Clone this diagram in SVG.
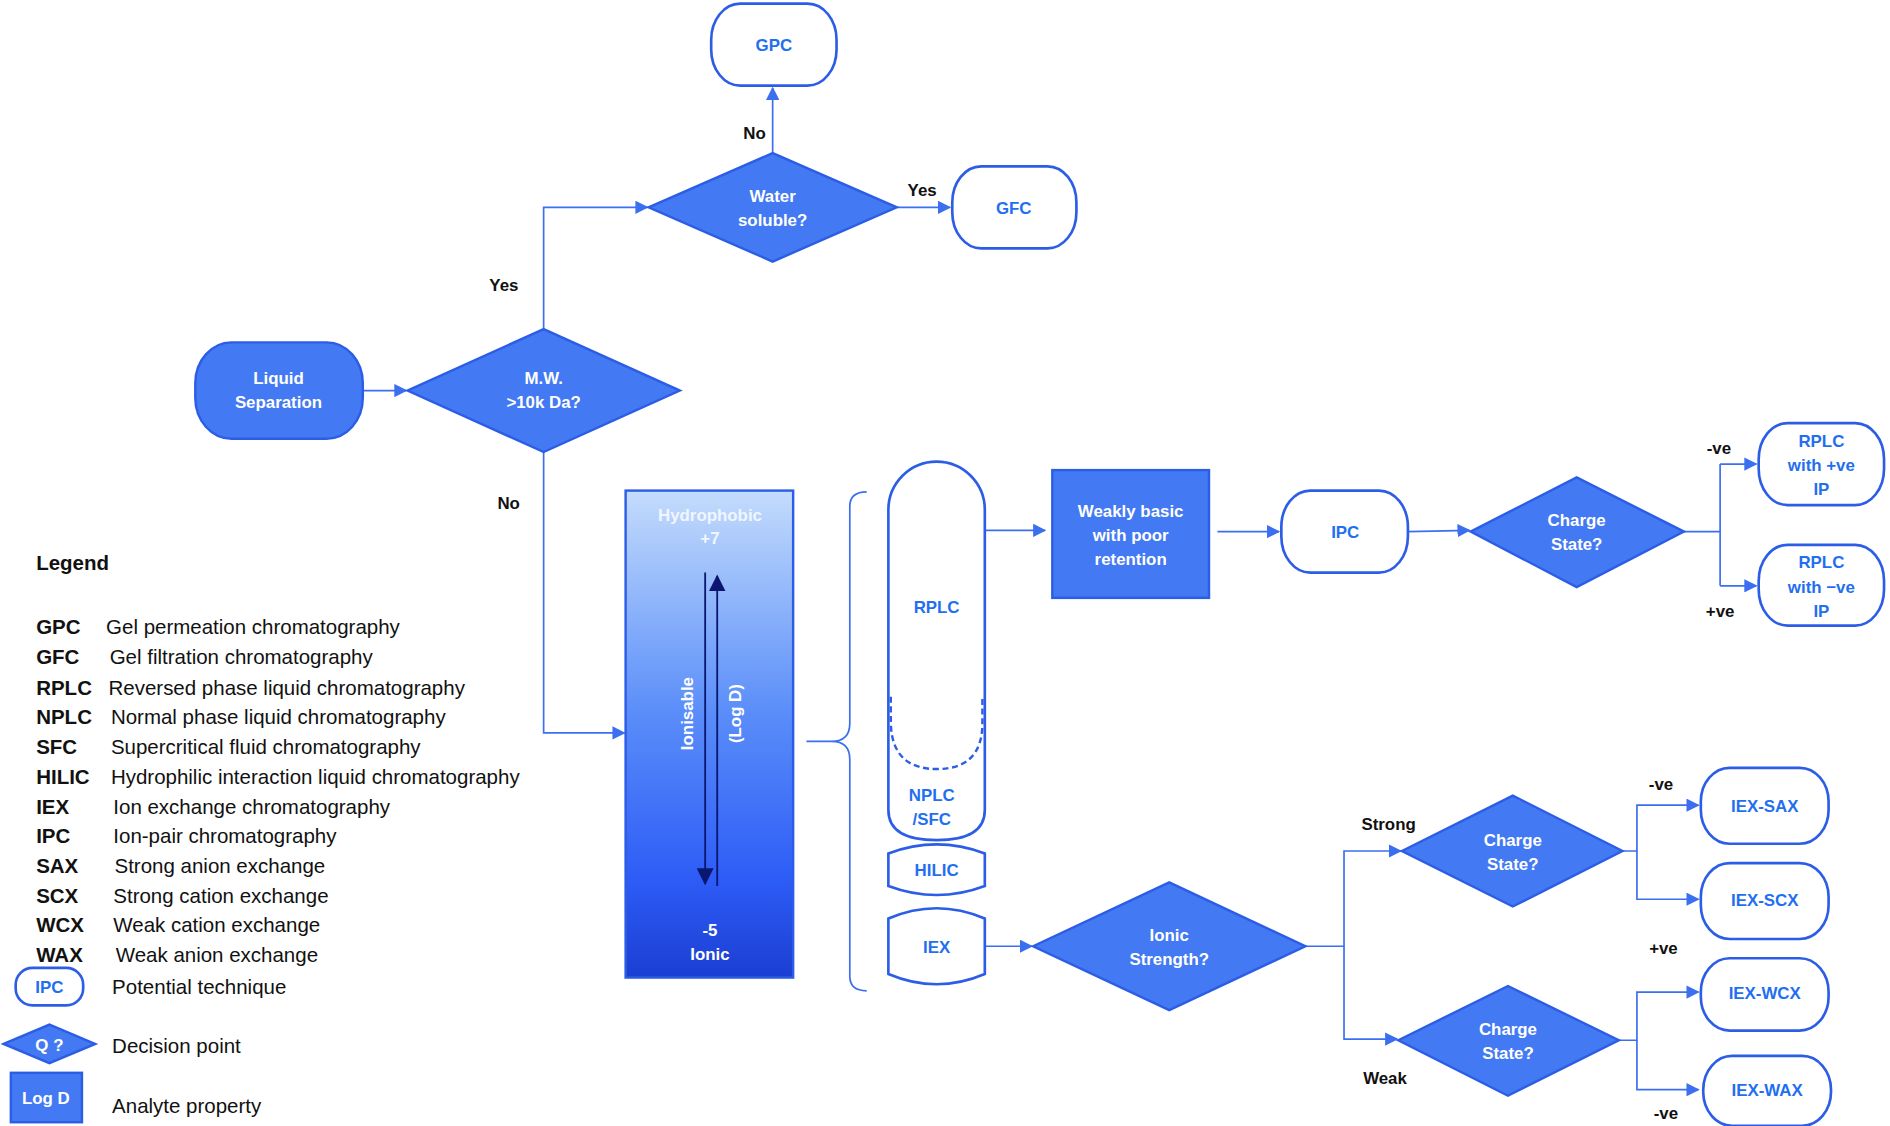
<svg xmlns="http://www.w3.org/2000/svg" width="1890" height="1126" viewBox="0 0 1890 1126">
<style>
.t{font-family:"Liberation Sans",Arial,sans-serif;font-weight:bold;font-size:14px;text-anchor:middle;dominant-baseline:central}
.w{fill:#fff}.b{fill:#1f6ff0}.k{fill:#111}
.on{fill:#fff;stroke:#2c5de6;stroke-width:2.2}
.fn{fill:#4379f2;stroke:#2c5de6;stroke-width:2}
.ln{fill:none;stroke:#3c6ff0;stroke-width:1.4}
.lg{font-family:"Liberation Sans",Arial,sans-serif;font-size:17px;fill:#111;dominant-baseline:central}
.lb{font-weight:bold}
</style>
<defs>
<marker id="a" viewBox="0 0 10 10" refX="9" refY="5" markerWidth="11" markerHeight="11" markerUnits="userSpaceOnUse" orient="auto"><path d="M0,0L10,5L0,10Z" fill="#3c6ff0"/></marker>
<marker id="d" viewBox="0 0 10 10" refX="9" refY="5" markerWidth="14" markerHeight="14" markerUnits="userSpaceOnUse" orient="auto"><path d="M0,0L10,5L0,10Z" fill="#0a1670"/></marker>
<linearGradient id="g" x1="0" y1="0" x2="0" y2="1"><stop offset="0" stop-color="#c4dcfc"/><stop offset="0.45" stop-color="#5b8ef9"/><stop offset="0.8" stop-color="#2d5cf6"/><stop offset="1" stop-color="#1b3ed2"/></linearGradient>
</defs>
<g transform="scale(1.2054)">
<g id="connectors">
<path class="ln" d="M641,127V73" marker-end="url(#a)"/>
<path class="ln" d="M744,172H788" marker-end="url(#a)"/>
<path class="ln" d="M301,324H337" marker-end="url(#a)"/>
<path class="ln" d="M451,273V172H537" marker-end="url(#a)"/>
<path class="ln" d="M451,375V608H518" marker-end="url(#a)"/>
<path class="ln" d="M817,440H867" marker-end="url(#a)"/>
<path class="ln" d="M1010,441H1061" marker-end="url(#a)"/>
<path class="ln" d="M1168,441L1219,440" marker-end="url(#a)"/>
<path class="ln" d="M1397,441H1427"/>
<path class="ln" d="M1427,385V486"/>
<path class="ln" d="M1427,385H1457" marker-end="url(#a)"/>
<path class="ln" d="M1427,486H1457" marker-end="url(#a)"/>
<path class="ln" d="M817,785H856" marker-end="url(#a)"/>
<path class="ln" d="M1083,785H1115V706H1162" marker-end="url(#a)"/>
<path class="ln" d="M1115,785V862H1159" marker-end="url(#a)"/>
<path class="ln" d="M1346,706H1358V668H1409" marker-end="url(#a)"/>
<path class="ln" d="M1358,706V746H1409" marker-end="url(#a)"/>
<path class="ln" d="M1343,863H1358V823H1409" marker-end="url(#a)"/>
<path class="ln" d="M1358,863V904H1409" marker-end="url(#a)"/>
<text class="t k" x="626" y="111">No</text>
<text class="t k" x="765" y="158">Yes</text>
<text class="t k" x="418" y="237">Yes</text>
<text class="t k" x="422" y="418">No</text>
<text class="t k" x="1426" y="372">-ve</text>
<text class="t k" x="1427" y="507">+ve</text>
<text class="t k" x="1152" y="684">Strong</text>
<text class="t k" x="1149" y="895">Weak</text>
<text class="t k" x="1378" y="651">-ve</text>
<text class="t k" x="1380" y="787">+ve</text>
<text class="t k" x="1382" y="924">-ve</text>
</g>
<g id="gpc"><rect class="on" x="590" y="3" width="104" height="68" rx="24" ry="30"/><text class="t b" x="642" y="38">GPC</text></g>
<g id="water"><polygon class="fn" points="538,172 641,127 744,172 641,217"/><text class="t w" x="641" y="163">Water</text><text class="t w" x="641" y="183">soluble?</text></g>
<g id="gfc"><rect class="on" x="790" y="138" width="103" height="68" rx="24" ry="30"/><text class="t b" x="841" y="173">GFC</text></g>
<g id="liquid"><rect class="fn" x="162" y="284" width="139" height="80" rx="30" ry="34"/><text class="t w" x="231" y="314">Liquid</text><text class="t w" x="231" y="334">Separation</text></g>
<g id="mw"><polygon class="fn" points="338,324 451,273 564,324 451,375"/><text class="t w" x="451" y="314">M.W.</text><text class="t w" x="451" y="334">&gt;10k Da?</text></g>
<g id="logd">
<rect x="519" y="407" width="139" height="404" fill="url(#g)" stroke="#2c5de6" stroke-width="2"/>
<text class="t" x="589" y="428" fill="#f0f6ff">Hydrophobic</text><text class="t" x="589" y="447" fill="#f0f6ff">+7</text>
<text class="t w" x="589" y="772">-5</text><text class="t w" x="589" y="792">Ionic</text>
<path d="M585,475V733" stroke="#0a1670" stroke-width="1.5" marker-end="url(#d)"/>
<path d="M595,735V478" stroke="#0a1670" stroke-width="1.5" marker-end="url(#d)"/>
<text class="t w" transform="translate(570,592) rotate(-90)">Ionisable</text>
<text class="t w" transform="translate(610,592) rotate(-90)">(Log D)</text>
</g>
<g id="brace"><path class="ln" stroke-width="2" d="M719,408Q705,408 705,420V600Q705,615 690,615H669M690,615Q705,615 705,630V810Q705,822 719,822"/></g>
<g id="rplc">
<path class="on" d="M737,423A40,40 0 0 1 817,423V672Q817,697 777,697Q737,697 737,672Z"/>
<path fill="none" stroke="#2c5de6" stroke-width="2" stroke-dasharray="5,3" d="M739,578V600Q740,638 777,638Q815,638 815,600V578"/>
<text class="t b" x="777" y="504">RPLC</text><text class="t b" x="773" y="660">NPLC</text><text class="t b" x="773" y="680">/SFC</text>
</g>
<g id="hilic"><path class="on" d="M737,708Q777,693 817,708V735Q777,750 737,735Z"/><text class="t b" x="777" y="722">HILIC</text></g>
<g id="iex"><path class="on" d="M737,762Q777,745 817,762V808Q777,825 737,808Z"/><text class="t b" x="777" y="786">IEX</text></g>
<g id="weakly"><rect class="fn" x="873" y="390" width="130" height="106"/><text class="t w" x="938" y="424">Weakly basic</text><text class="t w" x="938" y="444">with poor</text><text class="t w" x="938" y="464">retention</text></g>
<g id="ipc"><rect class="on" x="1063" y="407" width="105" height="68" rx="24" ry="30"/><text class="t b" x="1116" y="442">IPC</text></g>
<g id="charge1"><polygon class="fn" points="1220,441 1308,396 1397,441 1308,487"/><text class="t w" x="1308" y="432">Charge</text><text class="t w" x="1308" y="452">State?</text></g>
<g id="rplcpos"><rect class="on" x="1459" y="351" width="104" height="68" rx="24" ry="30"/><text class="t b" x="1511" y="366">RPLC</text><text class="t b" x="1511" y="386">with +ve</text><text class="t b" x="1511" y="406">IP</text></g>
<g id="rplcneg"><rect class="on" x="1459" y="452" width="104" height="67" rx="24" ry="30"/><text class="t b" x="1511" y="467">RPLC</text><text class="t b" x="1511" y="487">with −ve</text><text class="t b" x="1511" y="507">IP</text></g>
<g id="ionic"><polygon class="fn" points="857,785 970,732 1083,785 970,838"/><text class="t w" x="970" y="776">Ionic</text><text class="t w" x="970" y="796">Strength?</text></g>
<g id="charge2"><polygon class="fn" points="1163,706 1255,660 1346,706 1255,752"/><text class="t w" x="1255" y="697">Charge</text><text class="t w" x="1255" y="717">State?</text></g>
<g id="charge3"><polygon class="fn" points="1160,863 1251,818 1343,863 1251,909"/><text class="t w" x="1251" y="854">Charge</text><text class="t w" x="1251" y="874">State?</text></g>
<g id="sax"><rect class="on" x="1411" y="637" width="106" height="63" rx="24" ry="28"/><text class="t b" x="1464" y="669">IEX-SAX</text></g>
<g id="scx"><rect class="on" x="1411" y="716" width="106" height="63" rx="24" ry="28"/><text class="t b" x="1464" y="747">IEX-SCX</text></g>
<g id="wcx"><rect class="on" x="1411" y="795" width="106" height="60" rx="24" ry="28"/><text class="t b" x="1464" y="824">IEX-WCX</text></g>
<g id="wax"><rect class="on" x="1413" y="876" width="106" height="58" rx="24" ry="28"/><text class="t b" x="1466" y="905">IEX-WAX</text></g>
<g id="legend">
<text class="lg lb" x="30" y="467" font-size="22">Legend</text>
<text class="lg lb" x="30" y="520">GPC</text><text class="lg" x="88" y="520">Gel permeation chromatography</text>
<text class="lg lb" x="30" y="545">GFC</text><text class="lg" x="91" y="545">Gel filtration chromatography</text>
<text class="lg lb" x="30" y="570">RPLC</text><text class="lg" x="90" y="570">Reversed phase liquid chromatography</text>
<text class="lg lb" x="30" y="594">NPLC</text><text class="lg" x="92" y="594">Normal phase liquid chromatography</text>
<text class="lg lb" x="30" y="619">SFC</text><text class="lg" x="92" y="619">Supercritical fluid chromatography</text>
<text class="lg lb" x="30" y="644">HILIC</text><text class="lg" x="92" y="644">Hydrophilic interaction liquid  chromatography</text>
<text class="lg lb" x="30" y="669">IEX</text><text class="lg" x="94" y="669">Ion exchange chromatography</text>
<text class="lg lb" x="30" y="693">IPC</text><text class="lg" x="94" y="693">Ion-pair chromatography</text>
<text class="lg lb" x="30" y="718">SAX</text><text class="lg" x="95" y="718">Strong anion exchange</text>
<text class="lg lb" x="30" y="743">SCX</text><text class="lg" x="94" y="743">Strong cation exchange</text>
<text class="lg lb" x="30" y="767">WCX</text><text class="lg" x="94" y="767">Weak cation exchange</text>
<text class="lg lb" x="30" y="792">WAX</text><text class="lg" x="96" y="792">Weak anion exchange</text>
<rect class="on" x="13" y="803" width="56" height="31" rx="14" ry="14"/><text class="t b" x="41" y="819">IPC</text>
<text class="lg" x="93" y="818">Potential technique</text>
<polygon class="fn" points="3,866 41,850 79,866 41,882"/><text class="t w" x="41" y="867">Q ?</text>
<text class="lg" x="93" y="867">Decision point</text>
<rect class="fn" x="9" y="890" width="59" height="41"/><text class="t w" x="38" y="911">Log D</text>
<text class="lg" x="93" y="917">Analyte property</text>
</g>
</g>
</svg>
